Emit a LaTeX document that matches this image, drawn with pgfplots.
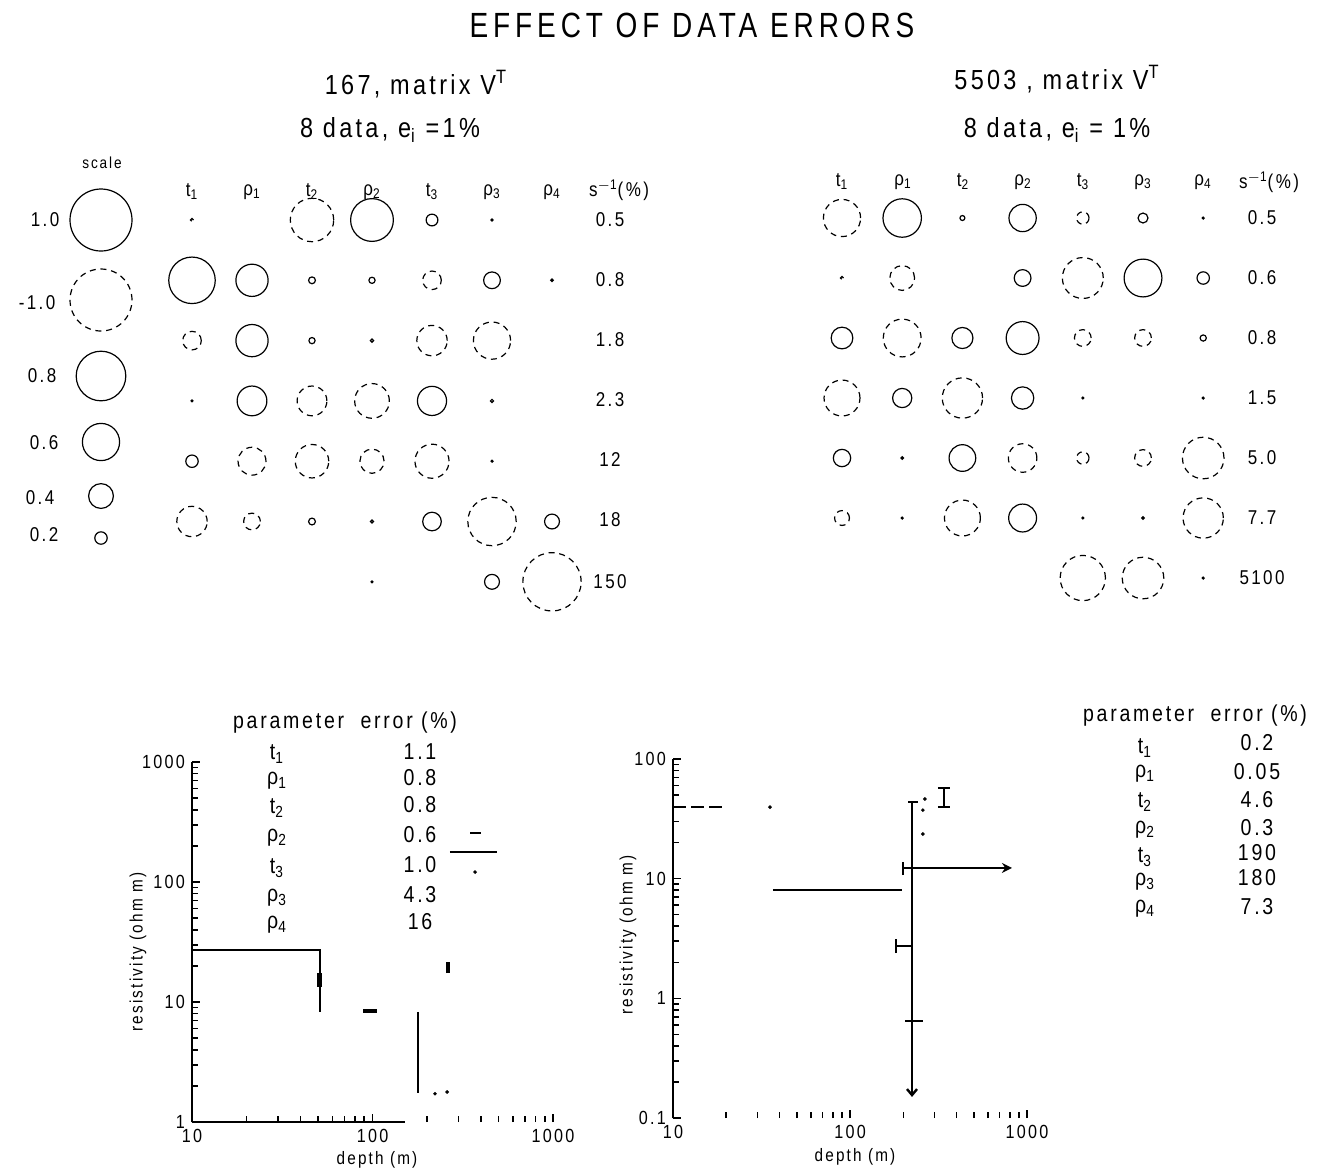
\documentclass[border=0pt]{standalone}
\usepackage{pgfplots}
\pgfplotsset{compat=1.18}
\usepackage{pgfplotstable}
\usepackage{fontspec}
\setmainfont{Liberation Sans}[FakeStretch=0.85,LetterSpace=12]
\newfontfamily\titlefont{Liberation Sans}[FakeStretch=0.8,LetterSpace=14]
\usetikzlibrary{arrows.meta}
\newcommand{\fs}[1]{\fontsize{#1}{#1}\selectfont}

% left matrix V^T: row r, column c, |value| v  (positive entries)
\pgfplotstableread{
r c v
0 3 0.69
0 4 0.19
0 5 0.03
1 0 0.75
1 1 0.52
1 2 0.11
1 3 0.10
1 5 0.27
1 6 0.04
2 1 0.52
2 2 0.10
2 3 0.05
3 0 0.03
3 1 0.48
3 4 0.47
3 5 0.05
4 0 0.20
4 5 0.03
5 2 0.11
5 3 0.05
5 4 0.30
5 6 0.24
6 3 0.03
6 5 0.24
}\LPos
% left matrix: negative entries (magnitudes)
\pgfplotstableread{
r c v
0 0 0.05
0 2 0.70
1 4 0.30
2 0 0.30
2 4 0.49
2 5 0.60
3 2 0.48
3 3 0.56
4 1 0.45
4 2 0.54
4 3 0.39
4 4 0.55
5 0 0.49
5 1 0.27
5 5 0.78
6 6 0.94
}\LNeg
% right matrix V^T: positive entries
\pgfplotstableread{
r c v
0 1 0.62
0 2 0.08
0 3 0.44
0 5 0.16
0 6 0.03
1 3 0.27
1 5 0.61
1 6 0.20
2 0 0.35
2 2 0.34
2 3 0.53
2 6 0.10
3 1 0.31
3 3 0.36
3 4 0.03
3 6 0.03
4 0 0.28
4 1 0.04
4 2 0.43
5 1 0.03
5 3 0.45
5 4 0.03
5 5 0.04
6 6 0.03
}\RPos
% right matrix: negative entries (magnitudes)
\pgfplotstableread{
r c v
0 0 0.60
0 4 0.20
1 0 0.05
1 1 0.40
1 4 0.66
2 1 0.61
2 4 0.27
2 5 0.27
3 0 0.58
3 2 0.65
4 3 0.46
4 4 0.20
4 5 0.27
4 6 0.67
5 0 0.24
5 2 0.58
5 6 0.65
6 4 0.73
6 5 0.67
}\RNeg

\pgfplotsset{
  circ/.style={only marks, mark=o, scatter, line width=0.6pt,
    scatter/use mapped color={draw=black},
    visualization depends on={15.5*\thisrow{v} \as \rr},
    scatter/@pre marker code/.append style={/tikz/mark size=\rr pt}},
  neg/.style={mark options={dash pattern=on 3pt off 2.4pt}},
  seg/.style={black, line width=1.2pt, no marks},
}

\begin{document}
\begin{tikzpicture}
\path[use as bounding box] (0,0) rectangle (665.5pt,-585.5pt);
\begin{axis}[at={(0pt,-585.5pt)}, anchor=south west, scale only axis,
  width=665.5pt, height=585.5pt, xmin=0, xmax=1331, ymin=0, ymax=1171,
  y dir=reverse, hide axis, clip=false]
% scale circles
\addplot[circ] table[x=x,y=y] {
x y v
101 220 1.0
101 376 0.8
101 442 0.6
101 496 0.4
101 538 0.2
};
\addplot[circ,neg] table[x=x,y=y] {
x y v
101 300 1.0
};
% matrices
\addplot[circ] table[x expr=192+60*\thisrow{c}, y expr=220+60.3*\thisrow{r}] \LPos;
\addplot[circ,neg] table[x expr=192+60*\thisrow{c}, y expr=220+60.3*\thisrow{r}] \LNeg;
\addplot[circ] table[x expr=842+60.2*\thisrow{c}, y expr=218+60*\thisrow{r}] \RPos;
\addplot[circ,neg] table[x expr=842+60.2*\thisrow{c}, y expr=218+60*\thisrow{r}] \RNeg;

% titles
\node[font=\titlefont\fs{17.5}] at (axis cs:692,25) {EFFECT OF DATA ERRORS};
\node[font=\fs{13.8}] at (axis cs:416,84) {167, matrix V\textsuperscript{T}};
\node[font=\fs{13.8}] at (axis cs:390,130) {8 data, e\textsubscript{i} =1\%};
\node[font=\fs{13.8}] at (axis cs:1057,79) {5503 , matrix V\textsuperscript{T}};
\node[font=\fs{13.8}] at (axis cs:1057,130) {8 data, e\textsubscript{i} = 1\%};

% scale labels
\node[font=\fs{8}] at (axis cs:102,163) {scale};
\node[font=\fs{10}] at (axis cs:45,220) {1.0};
\node[font=\fs{10}] at (axis cs:37,303) {-1.0};
\node[font=\fs{10}] at (axis cs:42,376) {0.8};
\node[font=\fs{10}] at (axis cs:44,443) {0.6};
\node[font=\fs{10}] at (axis cs:40,498) {0.4};
\node[font=\fs{10}] at (axis cs:44,535) {0.2};

% matrix headers and 1/s values
\begin{scope}[every node/.style={font=\fs{10}}]
\node at (axis cs:192,192) {t\textsubscript{1}};
\node at (axis cs:252,192) {ρ\textsubscript{1}};
\node at (axis cs:312,192) {t\textsubscript{2}};
\node at (axis cs:372,192) {ρ\textsubscript{2}};
\node at (axis cs:432,192) {t\textsubscript{3}};
\node at (axis cs:492,192) {ρ\textsubscript{3}};
\node at (axis cs:552,192) {ρ\textsubscript{4}};
\node at (axis cs:619,190) {s\textsuperscript{$-$1}(\%)};
\node at (axis cs:610,220) {0.5};
\node at (axis cs:610,280) {0.8};
\node at (axis cs:610,340) {1.8};
\node at (axis cs:610,400) {2.3};
\node at (axis cs:610,460) {12};
\node at (axis cs:610,520) {18};
\node at (axis cs:610,582) {150};
\node at (axis cs:842,182) {t\textsubscript{1}};
\node at (axis cs:903,182) {ρ\textsubscript{1}};
\node at (axis cs:963,182) {t\textsubscript{2}};
\node at (axis cs:1023,182) {ρ\textsubscript{2}};
\node at (axis cs:1083,182) {t\textsubscript{3}};
\node at (axis cs:1143,182) {ρ\textsubscript{3}};
\node at (axis cs:1203,182) {ρ\textsubscript{4}};
\node at (axis cs:1269,182) {s\textsuperscript{$-$1}(\%)};
\node at (axis cs:1262,218) {0.5};
\node at (axis cs:1262,278) {0.6};
\node at (axis cs:1262,338) {0.8};
\node at (axis cs:1262,398) {1.5};
\node at (axis cs:1262,458) {5.0};
\node at (axis cs:1262,518) {7.7};
\node at (axis cs:1262,578) {5100};
\end{scope}

% parameter tables
\begin{scope}[every node/.style={font=\fs{11.5}}]
\node at (axis cs:345,723) {parameter\ \ error (\%)};
\node at (axis cs:277,754) {t\textsubscript{1}};
\node at (axis cs:277,781) {ρ\textsubscript{1}};
\node at (axis cs:277,808) {t\textsubscript{2}};
\node at (axis cs:277,838) {ρ\textsubscript{2}};
\node at (axis cs:277,868) {t\textsubscript{3}};
\node at (axis cs:277,898) {ρ\textsubscript{3}};
\node at (axis cs:277,925) {ρ\textsubscript{4}};
\node at (axis cs:420,752) {1.1};
\node at (axis cs:420,778) {0.8};
\node at (axis cs:420,805) {0.8};
\node at (axis cs:420,835) {0.6};
\node at (axis cs:420,865) {1.0};
\node at (axis cs:420,895) {4.3};
\node at (axis cs:420,922) {16};
\node at (axis cs:1195,716) {parameter\ \ error (\%)};
\node at (axis cs:1145,748) {t\textsubscript{1}};
\node at (axis cs:1145,774) {ρ\textsubscript{1}};
\node at (axis cs:1145,802) {t\textsubscript{2}};
\node at (axis cs:1145,830) {ρ\textsubscript{2}};
\node at (axis cs:1145,857) {t\textsubscript{3}};
\node at (axis cs:1145,882) {ρ\textsubscript{3}};
\node at (axis cs:1145,909) {ρ\textsubscript{4}};
\node at (axis cs:1257,743) {0.2};
\node at (axis cs:1257,772) {0.05};
\node at (axis cs:1257,800) {4.6};
\node at (axis cs:1257,828) {0.3};
\node at (axis cs:1257,853) {190};
\node at (axis cs:1257,878) {180};
\node at (axis cs:1257,907) {7.3};
\end{scope}

% axis labels of the lower plots
\node[font=\fs{9}] at (axis cs:377,1160) {depth (m)};
\node[font=\fs{9}, rotate=90] at (axis cs:138,952) {resistivity (ohm m)};
\node[font=\fs{9}] at (axis cs:855,1157) {depth (m)};
\node[font=\fs{9}, rotate=90] at (axis cs:628,935) {resistivity (ohm m)};
\end{axis}

% lower left: model 167
\begin{axis}[at={(96pt,-561pt)}, anchor=south west, scale only axis,
  width=180.5pt, height=180pt,
  xmode=log, ymode=log,
  xmin=10, xmax=1000, ymin=1, ymax=1000,
  axis x line*=bottom, axis y line*=left,
  axis line style={-, line width=1.3pt},
  x axis line style={draw=none},
  tick align=inside, major tick length=4pt, minor tick length=3pt,
  tick style={black, line width=0.8pt},
  ticklabel style={font=\fs{9.5}},
  xtick={10,100,1000}, xticklabels={10,100,1000},
  ytick={1,10,100,1000}, yticklabels={1,10,100,1000},
  clip=false]
\addplot[seg, line width=1.3pt] coordinates {(10,1) (151,1)};
\addplot[seg] coordinates {(10,27.1) (51.2,27.1) (51.2,8.26)};
\addplot[seg, line width=2.4pt] coordinates {(50.6,13.4) (50.6,17.5)};
\addplot[seg, line width=2.2pt] coordinates {(88.6,8.4) (106,8.4)};
\addplot[seg] coordinates {(179,8.26) (179,1.745)};
\addplot[seg, line width=2.2pt] coordinates {(262,17.4) (262,21.5)};
\addplot[seg] coordinates {(268,178) (490,178)};
\addplot[seg] coordinates {(347,256) (399,256)};
\addplot[only marks, mark=*, mark size=0.7pt, black] coordinates {(370,121) (222,1.72) (259,1.78)};
\end{axis}

% lower middle: model 5503
\begin{axis}[at={(336.5pt,-559pt)}, anchor=south west, scale only axis,
  width=177pt, height=179.5pt,
  xmode=log, ymode=log,
  xmin=10, xmax=1000, ymin=0.1, ymax=100,
  axis x line*=bottom, axis y line*=left,
  axis line style={-, line width=1.3pt},
  x axis line style={draw=none},
  tick align=inside, major tick length=4pt, minor tick length=3pt,
  tick style={black, line width=0.8pt},
  ticklabel style={font=\fs{9.5}},
  xtick={10,100,1000}, xticklabels={10,100,1000},
  ytick={0.1,1,10,100}, yticklabels={0.1,1,10,100},
  clip=false]
\addplot[seg, dash pattern=on 6.5pt off 2.5pt] coordinates {(10,39.6) (19.1,39.6)};
\addplot[only marks, mark=*, mark size=0.7pt, black] coordinates {(35.3,39.6) (265,46.3) (258,37.4) (258,23.6)};
\addplot[seg] coordinates {(36.7,8.04) (197,8.04)};
\addplot[seg, -{Straight Barb[length=3pt,width=5pt]}] coordinates {(224,43.7) (224,0.15)};
\addplot[seg] coordinates {(213,43.7) (242,43.7)};
\addplot[seg, -{Stealth[length=5pt,width=5pt]}] coordinates {(199,12.3) (822,12.3)};
\addplot[seg] coordinates {(199,10.7) (199,13.8)};
\addplot[seg] coordinates {(182,2.73) (224,2.73)};
\addplot[seg] coordinates {(182,2.39) (182,3.13)};
\addplot[seg] coordinates {(205,0.646) (258,0.646)};
\addplot[seg] coordinates {(340,39.6) (340,57.1)};
\addplot[seg] coordinates {(314,57.1) (367,57.1)};
\addplot[seg] coordinates {(314,39.6) (367,39.6)};
\end{axis}
\end{tikzpicture}
\end{document}
